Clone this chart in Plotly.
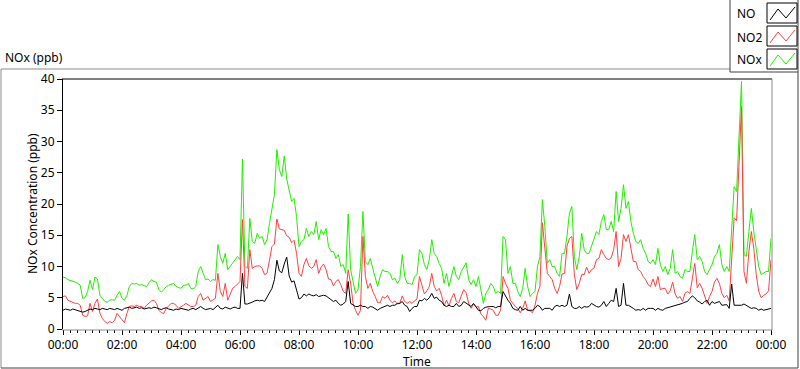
import plotly.graph_objects as go
import pandas as pd

# 5-minute samples, 00:00 .. 24:00 (one row per hour)
times = pd.date_range("2024-01-01 00:00", periods=289, freq="5min")

nox = [
    8.3, 8.2, 7.9, 7.8, 7.6, 7.5, 7.3, 7.0, 4.9, 5.0, 6.0, 7.8,
    6.3, 8.3, 8.0, 5.4, 4.9, 4.4, 4.3, 4.6, 4.7, 4.6, 5.4, 6.0,
    4.9, 4.6, 5.4, 6.8, 7.3, 7.2, 7.3, 7.0, 7.1, 6.9, 6.8, 7.4,
    7.9, 7.6, 7.5, 6.3, 5.9, 6.3, 6.8, 7.0, 7.2, 7.3, 6.8, 6.6,
    6.5, 7.0, 7.0, 7.3, 6.5, 6.4, 6.8, 9.2, 10.0, 8.9, 7.9, 8.0,
    7.6, 7.9, 7.8, 13.5, 11.6, 10.5, 12.1, 9.5, 10.0, 10.5, 11.0, 11.6,
    11.1, 27.2, 10.0, 9.7, 17.7, 14.0, 13.7, 15.3, 14.5, 14.8, 13.5, 14.3,
    16.9, 19.6, 21.5, 28.7, 25.5, 24.4, 27.7, 24.0, 22.0, 20.4, 20.9, 18.0,
    13.2, 14.0, 14.3, 16.1, 14.8, 15.6, 15.1, 17.2, 14.3, 15.9, 15.1, 16.1,
    13.2, 12.4, 12.4, 11.3, 11.9, 10.0, 10.3, 8.9, 18.4, 9.5, 7.6, 5.7,
    6.3, 10.0, 18.8, 10.8, 10.3, 11.3, 9.7, 8.4, 6.8, 8.4, 9.5, 9.2,
    9.2, 8.9, 7.9, 8.1, 7.3, 7.9, 11.9, 8.4, 7.3, 7.3, 7.1, 8.4,
    8.7, 12.7, 12.1, 10.3, 9.5, 11.1, 14.3, 12.1, 11.6, 10.5, 9.7, 7.3,
    8.9, 6.8, 8.4, 10.0, 8.4, 7.9, 9.2, 10.0, 10.6, 7.9, 7.1, 7.9,
    6.8, 8.4, 6.3, 4.1, 5.7, 6.3, 7.3, 6.8, 5.7, 6.0, 5.7, 14.8,
    14.3, 8.9, 10.0, 7.3, 7.3, 6.0, 5.2, 6.5, 9.7, 6.8, 5.2, 5.7,
    6.0, 10.0, 11.6, 20.7, 16.4, 10.5, 11.1, 10.0, 10.0, 8.9, 8.4, 12.1,
    12.1, 14.8, 18.5, 19.6, 11.6, 9.5, 11.6, 15.3, 12.7, 12.1, 12.1, 13.2,
    14.5, 15.6, 15.1, 17.2, 18.3, 15.9, 15.9, 17.2, 15.6, 22.0, 17.2, 19.3,
    23.1, 19.3, 20.4, 17.2, 15.3, 14.0, 13.7, 14.3, 12.9, 12.1, 10.8, 10.5,
    11.1, 10.3, 12.9, 10.3, 9.2, 10.0, 8.7, 9.7, 12.7, 8.9, 9.2, 8.4,
    8.1, 9.5, 9.2, 9.2, 12.4, 15.1, 11.1, 11.6, 10.8, 9.2, 8.7, 9.5,
    10.3, 11.6, 12.1, 13.5, 10.3, 9.2, 10.0, 9.2, 16.7, 22.8, 22.0, 31.1,
    39.6, 11.9, 11.6, 15.6, 19.3, 15.6, 12.4, 10.0, 8.7, 8.9, 9.2, 9.2,
    14.5,
]

no2 = [
    5.2, 5.3, 4.6, 4.4, 4.2, 4.1, 4.1, 3.8, 2.2, 2.0, 2.1, 4.1,
    2.8, 4.1, 4.8, 2.5, 1.7, 1.2, 0.9, 1.2, 1.0, 1.4, 2.5, 2.0,
    1.4, 1.0, 2.5, 3.6, 3.7, 3.6, 3.8, 3.6, 3.6, 3.3, 3.8, 4.1,
    4.5, 4.6, 4.1, 3.0, 2.6, 2.5, 3.3, 3.7, 4.1, 4.1, 3.8, 3.3,
    3.5, 3.8, 4.1, 3.8, 3.6, 3.6, 3.8, 5.2, 5.7, 4.6, 4.9, 5.2,
    4.4, 4.6, 4.9, 8.9, 6.0, 5.2, 7.3, 4.6, 5.7, 6.5, 6.8, 7.2,
    7.6, 17.5, 6.8, 6.5, 12.7, 9.7, 10.0, 10.1, 10.1, 9.7, 8.7, 8.9,
    11.1, 13.2, 13.6, 17.6, 16.0, 15.9, 15.8, 14.9, 14.7, 13.8, 14.2, 12.1,
    8.9, 8.4, 10.3, 11.3, 10.1, 9.7, 10.0, 11.1, 8.9, 9.9, 10.4, 9.5,
    8.0, 7.9, 6.9, 7.6, 7.9, 7.1, 6.0, 5.7, 9.5, 7.3, 4.1, 3.0,
    2.2, 3.0, 14.8, 8.4, 6.5, 7.3, 6.0, 5.2, 4.2, 4.2, 5.2, 4.9,
    5.4, 4.6, 4.2, 4.5, 4.0, 4.1, 5.3, 4.4, 4.1, 4.4, 4.1, 4.5,
    4.8, 8.4, 6.8, 5.6, 6.1, 6.8, 8.9, 6.8, 6.1, 6.5, 5.4, 3.7,
    4.6, 3.7, 4.9, 5.7, 4.4, 4.2, 5.3, 6.3, 5.8, 4.1, 3.3, 4.0,
    3.5, 3.6, 2.4, 2.0, 1.4, 3.3, 3.2, 3.0, 2.2, 2.2, 3.0, 8.4,
    7.3, 6.5, 4.6, 4.0, 3.6, 3.3, 2.6, 3.3, 4.5, 3.0, 2.9, 2.6,
    3.8, 5.7, 6.8, 17.0, 13.0, 8.9, 8.4, 7.9, 6.5, 5.7, 6.8, 8.8,
    8.9, 13.2, 14.5, 14.8, 8.7, 6.3, 7.3, 8.7, 8.7, 9.9, 8.9, 9.5,
    9.7, 11.1, 11.3, 12.7, 11.9, 11.3, 11.1, 11.4, 12.7, 15.6, 10.0, 11.3,
    15.1, 14.0, 15.1, 12.9, 10.8, 10.8, 9.5, 9.2, 8.4, 7.9, 7.1, 6.8,
    8.0, 6.8, 8.4, 6.3, 6.5, 6.5, 5.6, 6.1, 7.5, 5.6, 4.9, 5.2,
    4.4, 5.7, 6.0, 5.7, 8.0, 10.5, 6.6, 7.3, 6.5, 5.2, 4.1, 5.2,
    6.0, 7.5, 8.1, 7.3, 5.7, 5.0, 5.4, 4.5, 10.8, 17.8, 17.3, 27.4,
    35.6, 9.2, 7.3, 12.4, 15.6, 12.9, 8.7, 6.0, 5.0, 5.4, 5.6, 6.1,
    11.1,
]

no = [
    3.0, 3.2, 3.1, 3.0, 3.2, 3.1, 3.0, 2.9, 2.7, 2.8, 3.0, 3.2,
    3.1, 3.3, 3.2, 3.1, 3.3, 3.2, 3.1, 3.3, 3.2, 3.1, 3.3, 3.2,
    3.0, 3.3, 3.4, 3.5, 3.3, 3.4, 3.5, 3.3, 3.4, 3.2, 3.3, 3.4,
    3.3, 3.5, 3.4, 3.2, 3.1, 3.3, 3.4, 3.2, 3.1, 3.0, 3.2, 3.1,
    3.3, 3.2, 3.1, 3.0, 3.2, 3.3, 3.1, 3.4, 3.6, 3.3, 3.1, 3.2,
    3.3, 3.1, 3.4, 3.8, 3.3, 3.2, 3.5, 3.3, 3.2, 3.4, 3.5, 3.3,
    3.3, 8.9, 4.0, 4.0, 4.1, 4.3, 4.5, 4.6, 4.5, 4.6, 4.4, 5.1,
    5.7, 6.5, 7.9, 11.0, 9.3, 9.0, 10.4, 11.5, 8.5, 7.5, 7.7, 6.4,
    4.8, 5.0, 5.6, 5.3, 5.6, 5.4, 5.3, 5.5, 5.2, 5.3, 5.4, 5.3,
    5.0, 4.6, 4.4, 4.6, 4.1, 3.8, 4.0, 4.4, 7.6, 4.1, 3.8, 3.6,
    3.6, 3.8, 3.6, 3.6, 3.3, 3.6, 3.5, 3.3, 3.0, 3.3, 3.5, 3.6,
    3.8, 3.6, 3.8, 3.8, 4.1, 4.1, 4.4, 3.8, 3.6, 2.8, 3.3, 3.6,
    3.6, 4.6, 4.5, 4.9, 4.6, 5.0, 5.7, 4.9, 5.1, 4.6, 4.4, 3.8,
    3.6, 3.8, 3.6, 3.6, 4.1, 3.6, 3.8, 4.4, 4.1, 3.8, 3.6, 4.1,
    3.6, 3.0, 2.9, 3.3, 3.5, 3.6, 3.6, 3.6, 3.4, 3.6, 3.6, 6.0,
    5.2, 4.6, 4.1, 3.3, 3.1, 3.0, 3.6, 3.0, 3.3, 3.0, 3.0, 3.0,
    3.3, 3.8, 3.6, 3.0, 3.3, 3.3, 3.3, 3.0, 3.6, 3.8, 3.6, 3.8,
    3.6, 3.8, 5.6, 3.6, 3.3, 3.3, 3.6, 3.3, 3.6, 3.5, 3.6, 4.1,
    3.8, 3.6, 3.5, 3.8, 4.4, 3.6, 4.1, 4.6, 4.4, 6.5, 3.6, 3.8,
    7.3, 3.8, 3.8, 3.6, 3.3, 3.0, 3.1, 3.0, 3.3, 3.0, 3.3, 3.3,
    3.3, 3.0, 3.3, 3.1, 3.0, 3.3, 3.4, 3.6, 3.6, 3.8, 3.8, 3.9,
    4.1, 4.3, 4.4, 4.9, 5.3, 5.0, 4.5, 4.3, 4.0, 4.4, 4.6, 3.8,
    4.4, 4.1, 4.3, 4.4, 3.8, 3.8, 3.9, 3.3, 7.2, 3.8, 3.8, 3.7,
    3.8, 4.0, 3.8, 3.6, 3.3, 3.4, 3.3, 3.0, 3.2, 3.0, 3.1, 3.3,
    3.3,
]

series_names = ["NO", "NO2", "NOx"]
series_colors = ["#000000", "#ff4040", "#22ee00"]
y_ticks = [0, 5, 10, 15, 20, 25, 30, 35, 40]

W, H = 800, 369
L, R, T, B = 63, 29, 79, 40
PW, PH = W - L - R, H - T - B


def px(x):
    return (x - L) / PW


def py(y):
    return (H - B - y) / PH


fig = go.Figure()
for name, vals, col in [("NOx", nox, series_colors[2]),
                        ("NO2", no2, series_colors[1]),
                        ("NO", no, series_colors[0])]:
    fig.add_trace(go.Scatter(x=times, y=vals, mode="lines", name=name,
                             line=dict(color=col, width=1)))

shapes = []


def line(x0, y0, x1, y1, color, width=1):
    shapes.append(dict(type="line", xref="paper", yref="paper",
                       x0=px(x0), y0=py(y0), x1=px(x1), y1=py(y1),
                       line=dict(color=color, width=width)))


# outer frame
line(1, 69, 730, 69, "#8a8a8a")
line(1, 69, 1, 368, "#8a8a8a")
line(1, 368, 798, 368, "#404040")
line(798, 72, 798, 368, "#404040")
# plot area frame
line(62, 79, 772, 79, "#000000")
line(772, 79, 772, 330, "#8a8a8a")
line(62, 330, 772, 330, "#8a8a8a")
# legend box
line(730, 0, 730, 72, "#404040")
line(730, 72, 798, 72, "#404040")
line(798, 0, 798, 72, "#404040")

annotations = []
box_tops = [3, 26, 49]
label_y = [13, 37, 60]
for name, col, top, ly in zip(series_names, series_colors, box_tops, label_y):
    shapes.append(dict(type="rect", xref="paper", yref="paper",
                       x0=px(767), x1=px(797), y0=py(top), y1=py(top + 20),
                       line=dict(color="black", width=1), fillcolor="white"))
    pts = [(770, top + 17), (778, top + 6), (786, top + 15), (795, top + 4)]
    path = "M " + " L ".join(f"{px(a):.5f} {py(b):.5f}" for a, b in pts)
    shapes.append(dict(type="path", xref="paper", yref="paper", path=path,
                       line=dict(color=col, width=1)))
    annotations.append(dict(text=name, xref="paper", yref="paper",
                            x=px(735), y=py(ly), xanchor="left", yanchor="middle",
                            showarrow=False, font=dict(size=12, color="black")))

annotations.append(dict(text="NOx (ppb)", xref="paper", yref="paper",
                        x=px(3), y=py(58), xanchor="left", yanchor="middle",
                        showarrow=False, font=dict(size=12, color="black")))
annotations.append(dict(text="Time", xref="paper", yref="paper",
                        x=px(401), y=py(361), xanchor="left", yanchor="middle",
                        showarrow=False, font=dict(size=12, color="black")))
annotations.append(dict(text="NOx Concentration (ppb)", xref="paper", yref="paper",
                        x=px(32), y=py(204), xanchor="center", yanchor="middle",
                        textangle=-90, showarrow=False,
                        font=dict(size=12, color="black")))

fig.update_layout(
    width=W, height=H,
    margin=dict(l=L, r=R, t=T, b=B),
    paper_bgcolor="white", plot_bgcolor="white",
    showlegend=False,
    font=dict(family="Noto Sans", size=12, color="black"),
    shapes=shapes, annotations=annotations,
)
fig.update_xaxes(type="date", range=["2024-01-01 00:00", "2024-01-02 00:00"],
                 dtick=7200000, tickformat="%H:%M", ticks="outside",
                 ticklen=5, tickcolor="black", showgrid=False, zeroline=False,
                 showline=False,
                 minor=dict(dtick=900000, ticks="outside", ticklen=3,
                            tickcolor="black", showgrid=False))
fig.update_yaxes(range=[0, 40], tickvals=y_ticks, ticks="outside", ticklen=5,
                 tickcolor="black", showgrid=False, zeroline=False,
                 showline=True, linecolor="black", linewidth=1)

fig.write_html("out.html",
               config={"displayModeBar": False},
               post_script="document.body.style.margin='0px';"
                           "document.body.style.overflow='hidden';")
